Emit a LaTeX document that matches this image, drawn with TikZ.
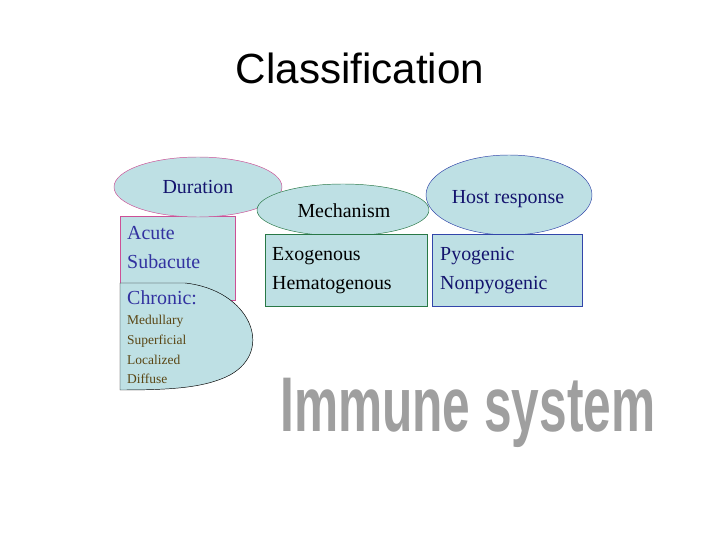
\documentclass[tikz,border=0pt]{standalone}
\usepackage{fontspec}
\setmainfont{Liberation Serif}
\setsansfont{Liberation Sans}
\usepackage{graphicx}
\definecolor{boxfill}{RGB}{190,224,228}
\definecolor{pinkline}{RGB}{204,80,150}
\definecolor{greenline}{RGB}{40,120,70}
\definecolor{blueline}{RGB}{50,70,170}
\definecolor{navytext}{RGB}{20,20,110}
\definecolor{bluetext}{RGB}{50,50,160}
\definecolor{browntext}{RGB}{90,70,20}
\begin{document}
\begin{tikzpicture}[x=0.03cm, y=-0.03cm,
  head/.style={font=\fontsize{17}{20}\selectfont, inner sep=0pt},
  item/.style={font=\fontsize{17}{20}\selectfont, anchor=west, inner sep=0pt},
  small/.style={font=\fontsize{11.5}{14}\selectfont, anchor=west, inner sep=0pt, text=browntext}]
\useasboundingbox[fill=white] (0,0) rectangle (720,540);

\node[font=\sffamily\fontsize{36}{40}\selectfont] (title) at (360,68) {Classification};

% duration
\draw[pinkline, fill=boxfill] (120,216) rectangle (235,300);
\draw[pinkline, fill=boxfill] (198,187) ellipse (84 and 30);
\draw[black, fill=boxfill] (120,283) -- (185,283) .. controls (250,290) and (275,350) .. (230,375)
  .. controls (205,388) and (170,390) .. (120,390) -- cycle;
\node[head, text=navytext] (dur) at (198,187) {Duration};
\node[item, text=bluetext] (acute) at (127,233) {Acute};
\node[item, text=bluetext] (subacute) at (127,262) {Subacute};
\node[item, text=bluetext] (chronic) at (127,298) {Chronic:};
\node[small] (med) at (127,321) {Medullary};
\node[small] (sup) at (127,341) {Superficial};
\node[small] (loc) at (127,360) {Localized};
\node[small] (dif) at (127,379) {Diffuse};

% mechanism
\draw[greenline, fill=boxfill] (343,210) ellipse (86 and 26);
\draw[greenline, fill=boxfill] (265,234) rectangle (427,306);
\node[head] (mech) at (344,211) {Mechanism};
\node[item] (exo) at (272,256) {Exogenous};
\node[item] (hema) at (272,285) {Hematogenous};

% host response
\draw[blueline, fill=boxfill] (509,195) ellipse (83 and 40);
\draw[blueline, fill=boxfill] (432,234) rectangle (582,306);
\node[head, text=navytext] (host) at (508,199) {Host response};
\node[item, text=navytext] (pyo) at (440,256) {Pyogenic};
\node[item, text=navytext] (nonpyo) at (440,285) {Nonpyogenic};

% word art
\node[inner sep=0pt, text=gray!75, anchor=north west] (immune) at (280,378)
  {\resizebox{11.25cm}{1.6cm}{\sffamily\bfseries Immune system}};
\end{tikzpicture}
\end{document}
